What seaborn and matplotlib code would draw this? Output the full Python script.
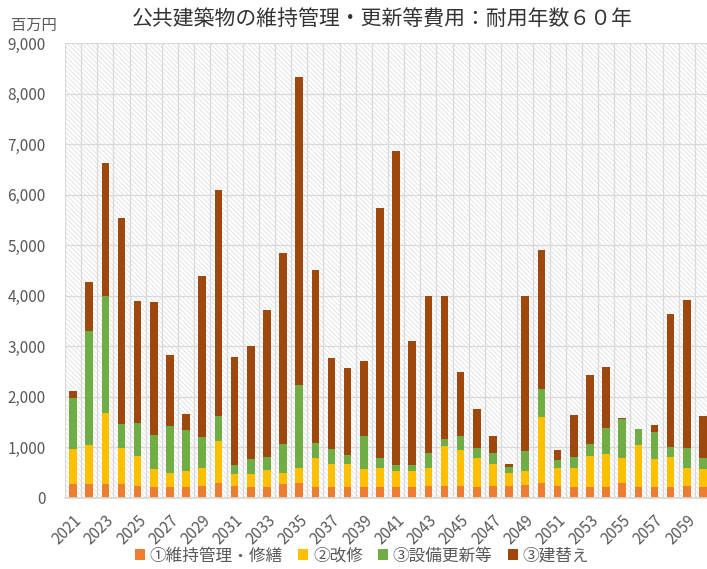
import numpy as np
import pandas as pd
import matplotlib.pyplot as plt
import seaborn as sns
from matplotlib.patches import Patch, Rectangle

# --- data (百万円) ---
years = list(range(2021, 2061))
repair = [270, 270, 270, 270, 240, 220, 220, 220, 240, 300,
          240, 220, 220, 285, 300, 220, 220, 220, 220, 220,
          220, 220, 230, 240, 240, 220, 230, 230, 265, 300,
          230, 220, 220, 220, 300, 220, 220, 220, 230, 220]
renovation = [700, 775, 1415, 715, 585, 350, 280, 310, 360, 820,
              235, 255, 330, 210, 300, 580, 455, 455, 350, 380,
              310, 310, 370, 785, 715, 565, 435, 265, 265, 1305,
              370, 380, 605, 645, 500, 825, 550, 585, 370, 350]
equipment = [1010, 2255, 2315, 475, 660, 685, 920, 810, 610, 505,
             170, 290, 260, 570, 1645, 290, 295, 185, 655, 200,
             120, 125, 300, 145, 275, 200, 225, 120, 390, 550,
             160, 215, 240, 520, 770, 310, 535, 200, 380, 215]
rebuild = [130, 975, 2630, 4080, 2415, 2615, 1415, 330, 3185, 4475,
           2145, 2250, 2905, 3775, 6075, 3420, 1805, 1705, 1480, 4945,
           6210, 2455, 3100, 2820, 1265, 770, 330, 50, 3070, 2760,
           180, 830, 1375, 1200, 5, 15, 130, 2630, 2945, 840]

series_names = ['①維持管理・修繕', '②改修', '③設備更新等', '③建替え']
series_colors = ['#ED7D31', '#FFC000', '#70AD47', '#9E480E']

df = pd.DataFrame({'year': [str(y) for y in years],
                   'repair': repair, 'renovation': renovation,
                   'equipment': equipment, 'rebuild': rebuild})
# cumulative tops for stacking
df['c1'] = df['repair']
df['c2'] = df['c1'] + df['renovation']
df['c3'] = df['c2'] + df['equipment']
df['c4'] = df['c3'] + df['rebuild']

# --- plot ---
sns.set_theme(style='white')
plt.rcParams['font.family'] = ['Noto Sans CJK JP', 'DejaVu Sans']
plt.rcParams['hatch.linewidth'] = 0.5

fig = plt.figure(figsize=(7.07, 5.69), dpi=100)
ax = fig.add_axes([65 / 707, 71 / 569, 646 / 707, 455 / 569])

# hatched plot background
bg = Rectangle((0, 0), 1, 1, transform=ax.transAxes, facecolor='white',
               edgecolor='#dadada', linewidth=0, hatch='\\' * 7, zorder=0.1)
ax.add_patch(bg)

for col, color in zip(['c4', 'c3', 'c2', 'c1'], series_colors[::-1]):
    sns.barplot(data=df, x='year', y=col, color=color, saturation=1,
                width=0.47, errorbar=None, linewidth=0, ax=ax, zorder=2)

ax.set_ylim(0, 9000)
ax.set_xlim(-0.5, len(years) - 0.5)
ax.set_yticks(np.arange(0, 9001, 1000))
ax.set_yticklabels([f'{v:,}' for v in range(0, 9001, 1000)])
ax.set_xticks(np.arange(len(years)))
ax.set_xticklabels([str(y) if i % 2 == 0 else '' for i, y in enumerate(years)],
                   rotation=45, ha='right', rotation_mode='anchor')
ax.set_xticks(np.arange(-0.5, len(years), 1), minor=True)

ax.set_axisbelow(True)
ax.grid(axis='y', which='major', color='#d9d9d9', linewidth=0.9, zorder=0.5)
ax.grid(axis='x', which='minor', color='#d9d9d9', linewidth=0.9, zorder=0.5)
ax.grid(axis='x', which='major', visible=False)
ax.tick_params(axis='y', length=0, pad=14, labelsize=11, labelcolor='#595959')
ax.tick_params(axis='x', which='both', length=0, pad=10, labelsize=11,
               labelcolor='#595959')
for s in ['top', 'right', 'left']:
    ax.spines[s].set_visible(False)
ax.spines['bottom'].set_color('#d9d9d9')
ax.set_xlabel('')
ax.set_ylabel('')

fig.text(382 / 707, 1 - 20 / 569, '公共建築物の維持管理・更新等費用：耐用年数６０年',
         ha='center', va='center', fontsize=15, color='#333333')
fig.text(34 / 707, 1 - 25 / 569, '百万円', ha='center', va='center',
         fontsize=11, color='#595959')

handles = [Patch(facecolor=c, edgecolor='none') for c in series_colors]
fig.legend(handles, series_names, loc='center', bbox_to_anchor=(362 / 707, 1 - 556 / 569),
           ncol=4, frameon=False, fontsize=12, handlelength=0.6, handleheight=0.6,
           handletextpad=0.3, columnspacing=0.9, labelcolor='#595959')

fig.savefig('out.png', dpi=100)
